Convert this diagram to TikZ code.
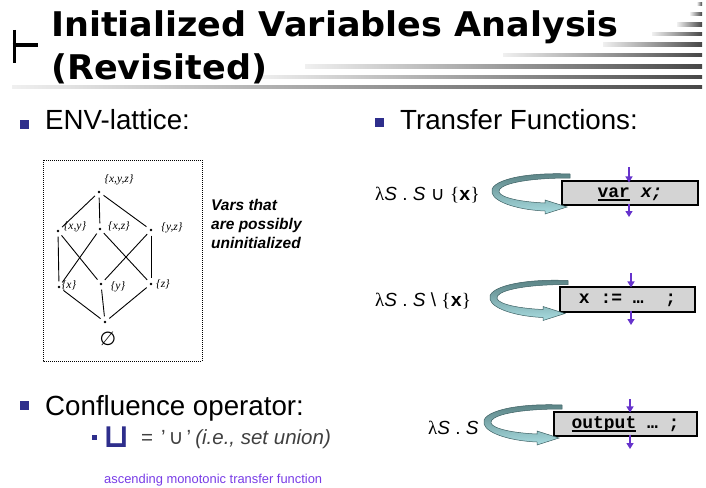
\documentclass[tikz,border=0pt]{standalone}
\usepackage{fontspec}
\setmainfont{Liberation Sans}
\setmonofont{Liberation Mono}
\newfontfamily\titlefont{DejaVu Sans}[FakeStretch=1.03]
\newfontfamily\symfont{DejaVu Sans}
\newfontfamily\seriffont{Liberation Serif}
\usetikzlibrary{arrows.meta}
\definecolor{navy}{RGB}{46,46,140}
\definecolor{purp}{RGB}{102,51,204}
\definecolor{ascviolet}{RGB}{120,60,230}
\definecolor{boxfill}{RGB}{212,212,212}
\definecolor{ribtop}{RGB}{88,128,130}
\definecolor{ribbot}{RGB}{168,220,224}
\definecolor{ribedge}{RGB}{60,95,98}
\definecolor{darkgr}{RGB}{64,64,64}
\newcommand\myul[1]{\setbox0\hbox{#1}\rlap{\rule[-3.5pt]{\wd0}{1.4pt}}\box0\relax}
\newcommand\loopribbon[2]{%
  \shade[top color=ribtop, bottom color=ribbot, draw=ribedge, line width=0.5pt, shift={(#1,#2)}]
    (8,-19) .. controls (-40,-21) and (-74,-12) .. (-70,0)
    .. controls (-67,10) and (-42,17) .. (-17,18)
    -- (-17,21) -- (5,14) -- (-17,7) -- (-17,10)
    .. controls (-40,9) and (-61,5) .. (-63,-1)
    .. controls (-65,-8) and (-40,-15) .. (8,-15) -- cycle;}
\tikzset{
  titletext/.style={font=\titlefont\bfseries\fontsize{34}{34}\selectfont, inner sep=0},
  bodytext/.style={font=\fontsize{27.7}{30}\selectfont, inner sep=0},
  bullet/.style={fill=navy, minimum size=9pt, inner sep=0},
  smallbullet/.style={fill=navy, minimum size=5pt, inner sep=0},
  ldot/.style={circle, fill=black, inner sep=0, minimum size=2.8pt},
  ledge/.style={line width=0.9pt, shorten <=4pt, shorten >=4pt},
  llabel/.style={font=\seriffont\itshape\fontsize{11.5}{11.5}\selectfont, inner sep=0},
  codebox/.style={draw, fill=boxfill, line width=1.1pt, inner sep=0,
    font=\ttfamily\bfseries\fontsize{18}{18}\selectfont, text height=12pt, text depth=4pt},
  lamtext/.style={font=\fontsize{19}{19}\selectfont, inner sep=0},
  parrow/.style={draw=purp, line width=1.4pt, -{Triangle[length=6pt,width=7pt]}},
}
\begin{document}
\begin{tikzpicture}[x=1pt,y=-1pt]
\useasboundingbox (0,0) rectangle (706,487);
% title gradient lines
\foreach \yy/\xx in {4/697, 14/690, 24.7/677, 34.3/652, 44.5/603, 55/503, 66.5/305, 76.7/257, 87/12}
  \shade[left color=gray!12, right color=black!72] (\xx,\yy-1.7) rectangle (702,\yy+1.7);
% turnstile
\draw[line width=3.6pt] (14.3,30) -- (14.3,63);
\draw[line width=4pt] (12.5,45) -- (38,45);
% title
\node[titletext, anchor=base west] (t1) at (51,37) {Initialized Variables Analysis};
\node[titletext, anchor=base west] (t2) at (51,79.5) {(Revisited)};
% left heading
\node[bullet] (b1) at (24,124) {};
\node[bodytext, anchor=base west] (env) at (45,129.3) {ENV-lattice:};
% lattice box
\draw[line width=1pt, dash pattern=on 1pt off 1pt] (43,160) rectangle (202,361);
\node[ldot] (T) at (99,192) {};
\node[ldot] (XY) at (58,231) {};
\node[ldot] (XZ) at (100,229) {};
\node[ldot] (YZ) at (151,230) {};
\node[ldot] (X) at (59,287) {};
\node[ldot] (Y) at (101,284) {};
\node[ldot] (Z) at (151,284) {};
\node[ldot] (B) at (105,322) {};
\foreach \a/\b in {T/XY, T/XZ, T/YZ, XY/X, XY/Y, XZ/X, XZ/Z, YZ/Y, YZ/Z, X/B, Y/B, Z/B}
  \draw[ledge] (\a) -- (\b);
\node[llabel] (lT) at (119,180) {\{x,y,z\}};
\node[llabel] (lXY) at (75,227) {\{x,y\}};
\node[llabel] (lXZ) at (119,226) {\{x,z\}};
\node[llabel] (lYZ) at (172,228) {\{y,z\}};
\node[llabel] (lX) at (69,285) {\{x\}};
\node[llabel] (lY) at (118,287) {\{y\}};
\node[llabel] (lZ) at (163,284) {\{z\}};
\node[font=\symfont\fontsize{19}{19}\selectfont, inner sep=0] (lB) at (108,339) {∅};
\node[font=\bfseries\itshape\fontsize{15.5}{19}\selectfont, align=left, anchor=base west, inner sep=0] (vars) at (211,248) {Vars that\\are possibly\\uninitialized};
% right heading
\node[bullet] (b2) at (379.5,122.5) {};
\node[bodytext, anchor=base west] (tf) at (400,129) {Transfer Functions:};
% boxes
\node[codebox, minimum width=136pt, minimum height=24pt] (box1) at (630,193) {\myul{var} \textit{x;}};
\node[codebox, minimum width=135pt, minimum height=25pt] (box2) at (627.5,299.5) {x := …\ \ ;};
\node[codebox, minimum width=143pt, minimum height=24pt] (box3) at (625.5,424) {\myul{output} … ;};
% lambda texts
\node[lamtext, anchor=west] (l1) at (375,195) {{\seriffont λ}\textit{S} . \textit{S} {\symfont ∪} {\seriffont\{}{\ttfamily\bfseries x}{\seriffont\}}};
\node[lamtext, anchor=west] (l2) at (375,301) {{\seriffont λ}\textit{S} . \textit{S} \textbackslash\ {\seriffont\{}{\ttfamily\bfseries x}{\seriffont\}}};
\node[lamtext, anchor=west] (l3) at (428,428) {{\seriffont λ}\textit{S} . \textit{S}};
% ribbons
\loopribbon{562}{193}
\loopribbon{560}{299.5}
\loopribbon{554}{424}
% purple arrows
\coordinate (p1a) at (629,167); \coordinate (p1c) at (629,217);
\coordinate (p2a) at (631,273); \coordinate (p2c) at (631,325);
\coordinate (p3a) at (630,399); \coordinate (p3c) at (630,449);
\draw[parrow, shorten >=-2pt] (p1a) -- (p1a |- box1.north);
\draw[parrow, shorten <=-2pt] (p1a |- box1.south) -- (p1c);
\draw[parrow, shorten >=-1pt] (p2a) -- (p2a |- box2.north);
\draw[parrow, shorten <=-2pt] (p2a |- box2.south) -- (p2c);
\draw[parrow, shorten >=-1pt] (p3a) -- (p3a |- box3.north);
\draw[parrow, shorten <=-2pt] (p3a |- box3.south) -- (p3c);
% confluence
\node[bullet] (b3) at (24,405.5) {};
\node[bodytext, anchor=base west] (co) at (45,415) {Confluence operator:};
\node[smallbullet] (b4) at (94.5,437.5) {};
\node[font=\symfont\bfseries\fontsize{33}{33}\selectfont, text=navy, inner sep=0] (sq) at (117,437) {⊔};
\node[font=\fontsize{20.5}{20.5}\selectfont, text=darkgr, anchor=base west, inner sep=0] (eq) at (141,444.5) {=\hspace{8pt}'\hspace{3pt}{\symfont ∪}\hspace{3pt}'\hspace{4pt}\textit{(i.e., set union)}};
\node[font=\fontsize{12.9}{13}\selectfont, text=ascviolet, anchor=west, inner sep=0] (asc) at (104,480) {ascending monotonic transfer function};
\end{tikzpicture}
\end{document}
